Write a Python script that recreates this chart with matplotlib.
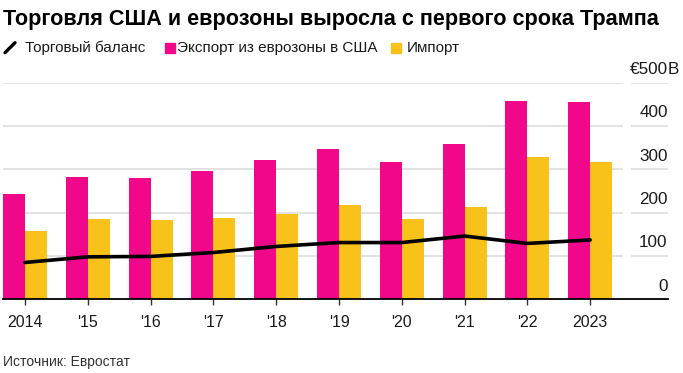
import matplotlib
matplotlib.use("Agg")
import matplotlib.pyplot as plt
from matplotlib.patches import Rectangle
from matplotlib.lines import Line2D
import matplotlib.transforms as mtransforms

plt.rcParams['font.family'] = ['Liberation Sans', 'DejaVu Sans']

years = [2014, 2015, 2016, 2017, 2018, 2019, 2020, 2021, 2022, 2023]
tick_labels = ['2014', "'15", "'16", "'17", "'18", "'19", "'20", "'21", "'22", '2023']
exports = [242, 283, 281, 296, 321, 348, 316, 358, 457, 455]
imports = [157, 185, 182, 188, 198, 217, 185, 212, 328, 318]
balance = [85, 98, 99, 108, 122, 131, 131, 146, 129, 137]
y_ticks = [0, 100, 200, 300, 400, 500]
y_labels = ['0', '100', '200', '300', '400', '€500']

PINK = '#f0078a'
YELLOW = '#f9c21b'

W, H = 683, 373
fig = plt.figure(figsize=(W / 100, H / 100), dpi=100)

def fx(px):
    return px / W

def fy(py):
    return 1 - py / H

# axes spans x 3..668 px, y 82.7..299.3 px
ax_left, ax_right = 3, 668
ax_top, ax_bottom = 82.7, 299.3
ax = fig.add_axes([fx(ax_left), fy(ax_bottom), fx(ax_right - ax_left), (ax_bottom - ax_top) / H])

x = list(range(len(years)))
step = 62.8
x0 = 25
xmin = (ax_left - x0) / step
xmax = (ax_right - x0) / step
ax.set_xlim(xmin, xmax)
ax.set_ylim(0, 500)

w = 22 / step
ax.bar([i - w / 2 for i in x], exports, width=w, color=PINK, zorder=2)
ax.bar([i + w / 2 for i in x], imports, width=w, color=YELLOW, zorder=2)
ax.plot(x, balance, color='black', lw=2.6, solid_capstyle='round', solid_joinstyle='round', zorder=3)

grid_end = (622.7 - x0) / step
lab_start = (631 - x0) / step
lab_end = (667.7 - x0) / step
for t in y_ticks[1:]:
    ax.hlines(t, xmin, grid_end, color='#dddddd', lw=1.2, zorder=1)
    ax.hlines(t, lab_start, lab_end, color='#dddddd', lw=1.2, zorder=1)

# y labels above gridlines
offset = mtransforms.offset_copy(ax.transData, fig=fig, x=0, y=6.3, units='points')
for t, lab in zip(y_ticks, y_labels):
    ax.text(lab_end, t, lab, transform=offset, ha='right', va='baseline',
            fontsize=12.3, color='#1a1a1a')
ax.text(lab_end, 500, 'B', transform=offset, ha='left', va='baseline',
        fontsize=12.3, color='#1a1a1a')

for s in ['top', 'right', 'left']:
    ax.spines[s].set_visible(False)
ax.spines['bottom'].set_color('black')
ax.spines['bottom'].set_linewidth(1.3)
ax.set_yticks([])
ax.set_xticks(x)
ax.set_xticklabels(tick_labels)
ax.tick_params(axis='x', length=4.5, width=1, color='#333333', pad=7,
               labelsize=11.5, labelcolor='#1a1a1a')

# title
fig.text(fx(3), fy(19), 'Торговля США и еврозоны выросла с первого срока Трампа',
         fontsize=15.6, fontweight='bold', ha='left', va='center', color='black')

# legend
fig.add_artist(Line2D([fx(5), fx(15)], [fy(52.7), fy(42.7)], color='black', lw=2.4,
                      solid_capstyle='round', transform=fig.transFigure))
fig.text(fx(25), fy(48), 'Торговый баланс', fontsize=11, ha='left', va='center', color='#1a1a1a')
fig.add_artist(Rectangle((fx(165), fy(52.7)), fx(10), 10 / H, color=PINK, transform=fig.transFigure))
fig.text(fx(177), fy(48), 'Экспорт из еврозоны в США', fontsize=11, ha='left', va='center', color='#1a1a1a')
fig.add_artist(Rectangle((fx(391), fy(52.7)), fx(10), 10 / H, color=YELLOW, transform=fig.transFigure))
fig.text(fx(407), fy(48), 'Импорт', fontsize=11, ha='left', va='center', color='#1a1a1a')

# source
fig.text(fx(3), fy(362), 'Источник: Евростат', fontsize=10, ha='left', va='center', color='#333333')

fig.savefig('out.png', dpi=100)
